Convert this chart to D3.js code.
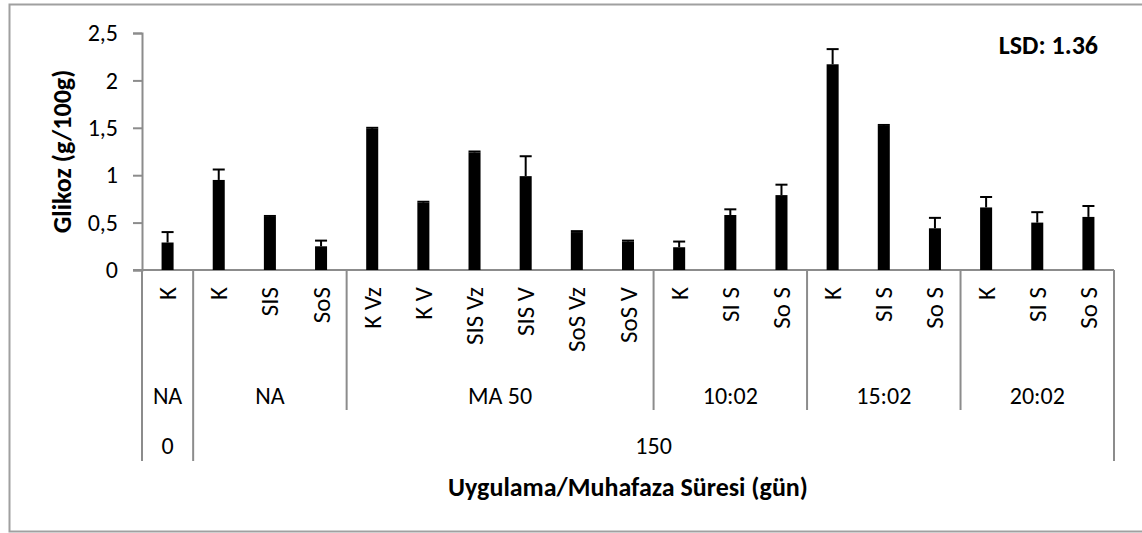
<!DOCTYPE html>
<html>
<head>
<meta charset="utf-8">
<script src="https://cdn.jsdelivr.net/npm/d3@7"></script>
<style>
html,body{margin:0;padding:0;background:#fff;}
svg{display:block;}
text{font-family:Carlito,Lato,"Open Sans",sans-serif;fill:#000;}
</style>
</head>
<body>
<svg id="chart" width="1142" height="533"></svg>
<script>
const categories = ["K","K","SIS","SoS","K Vz","K V","SIS Vz","SIS V","SoS Vz","SoS V","K","SI S","So S","K","SI S","So S","K","SI S","So S"];
const values = [0.29,0.95,0.56,0.25,1.49,0.71,1.24,0.99,0.40,0.30,0.24,0.58,0.79,2.17,1.52,0.44,0.66,0.50,0.56];
const errors = [0.11,0.11,0.01,0.06,0.01,0.01,0.01,0.21,0.01,0.01,0.06,0.06,0.11,0.16,0.01,0.11,0.11,0.11,0.115];
const groupLabels = ["NA","NA","MA 50","10:02","15:02","20:02"];
const groupCounts = [1,3,6,3,3,3];
const periodLabels = ["0","150"];
const periodCounts = [1,18];
const yTicks = [0,0.5,1,1.5,2,2.5];
const yTitle = "Glikoz (g/100g)";
const xTitle = "Uygulama/Muhafaza Süresi (gün)";
const lsdText = "LSD: 1.36";

(function(){
const svg = d3.select("#chart");
const W = 1142, H = 533;
const pL = 142, pR = 1114, pT = 33, base = 270;
const axisColor = "#8c8c8c";
const fs = 24, fsCat = 25, fsBold = 26;

svg.append("rect").attr("x",0).attr("y",0).attr("width",W).attr("height",H).attr("fill","#fff");
svg.append("rect").attr("x",9.5).attr("y",4.5).attr("width",W+10).attr("height",527)
  .attr("fill","none").attr("stroke","#a0a0a0").attr("stroke-width",2);

const idx = categories.map((d,i)=>i);
const x = d3.scaleBand().domain(idx).range([pL,pR]).paddingInner(0.765).paddingOuter(0.3825);
const step = x.step();
const y = d3.scaleLinear().domain([0,2.5]).range([base,pT]);

const yAxis = d3.axisLeft(y).tickValues(yTicks).tickSize(9).tickPadding(15)
  .tickFormat(d=>String(d).replace(".",","));
const ga = svg.append("g").attr("transform",`translate(${pL},0)`).call(yAxis);
ga.select(".domain").attr("stroke",axisColor).attr("stroke-width",2);
ga.selectAll(".tick line").attr("stroke",axisColor).attr("stroke-width",2);
ga.selectAll(".tick text").attr("font-size",fs).attr("font-family","Carlito,Lato,sans-serif").attr("fill","#000");

svg.append("line").attr("x1",pL-9).attr("x2",pR).attr("y1",base).attr("y2",base)
  .attr("stroke",axisColor).attr("stroke-width",2);

svg.append("g").selectAll("rect").data(values).join("rect")
  .attr("x",(d,i)=>x(i)).attr("width",x.bandwidth())
  .attr("y",d=>y(d)).attr("height",d=>base-y(d)).attr("fill","#000");

const eg = svg.append("g").attr("stroke","#000").attr("stroke-width",2);
values.forEach((v,i)=>{
  const cx = x(i)+x.bandwidth()/2;
  eg.append("line").attr("x1",cx).attr("x2",cx).attr("y1",y(v)).attr("y2",y(v+errors[i]));
  eg.append("line").attr("x1",x(i)).attr("x2",x(i)+x.bandwidth()).attr("y1",y(v+errors[i])).attr("y2",y(v+errors[i]));
});

svg.append("g").selectAll("text").data(categories).join("text")
  .attr("transform",(d,i)=>`translate(${x(i)+x.bandwidth()/2},287) rotate(-90)`)
  .attr("text-anchor","end").attr("dominant-baseline","central")
  .attr("font-size",fsCat).text(d=>d);

const sepG = svg.append("g").attr("stroke",axisColor).attr("stroke-width",2);
const edgeX = i => pL + i*step;
const periodBounds = new Set([0]);
let pacc = 0;
periodCounts.forEach(c=>{pacc+=c; periodBounds.add(pacc);});
let acc = 0;
const groupBounds = [0];
groupCounts.forEach((c,gi)=>{
  const start = acc; acc += c;
  groupBounds.push(acc);
  svg.append("text").attr("x",(edgeX(start)+edgeX(acc))/2).attr("y",395)
    .attr("text-anchor","middle").attr("dominant-baseline","central")
    .attr("font-size",fs).text(groupLabels[gi]);
});
groupBounds.forEach(b=>{
  const yEnd = periodBounds.has(b) ? 461 : 410;
  sepG.append("line").attr("x1",edgeX(b)).attr("x2",edgeX(b)).attr("y1",base).attr("y2",yEnd);
});
pacc = 0;
periodCounts.forEach((c,pi)=>{
  const start = pacc; pacc += c;
  svg.append("text").attr("x",(edgeX(start)+edgeX(pacc))/2).attr("y",445)
    .attr("text-anchor","middle").attr("dominant-baseline","central")
    .attr("font-size",fs).text(periodLabels[pi]);
});

svg.append("text").attr("x",(pL+pR)/2).attr("y",487).attr("text-anchor","middle")
  .attr("dominant-baseline","central").attr("font-size",fsBold).attr("font-weight","bold").text(xTitle);
svg.append("text").attr("transform",`translate(62,${(pT+base)/2}) rotate(-90)`)
  .attr("text-anchor","middle").attr("dominant-baseline","central")
  .attr("font-size",fsBold).attr("font-weight","bold").text(yTitle);
svg.append("text").attr("x",1098).attr("y",45).attr("text-anchor","end")
  .attr("dominant-baseline","central").attr("font-size",fsBold).attr("font-weight","bold").text(lsdText);
})();
</script>
</body>
</html>
